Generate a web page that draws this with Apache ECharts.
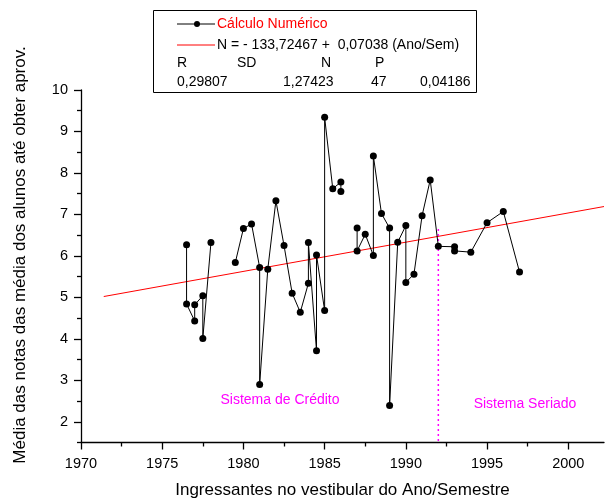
<!DOCTYPE html>
<html><head><meta charset="utf-8">
<script src="https://cdn.jsdelivr.net/npm/echarts@6/dist/echarts.min.js"></script>
<style>html,body{margin:0;padding:0;background:#fff}#c{width:605px;height:504px}</style>
</head><body><div id="c"></div>
<script>
// Data (null = gap in the line)
const years = [1976.5,1976.5,1977,1977,1977.5,1977.5,1978,1978.75,
  1979.5,1980,1980.5,1981,1981,1981.5,1982,1982.5,1983,1983.5,1984,1984,1984.5,1984.5,1985,1985,1985.5,1986,1986,1986.5,
  1987,1987,1987.5,1988,1988,1988.5,1989,1989,1989.5,1990,1990,1990.5,1991,1991.5,1992,1993,1993,1994,1995,1996,1997];
const values = [6.27,4.84,4.43,4.82,5.04,4.01,6.32,null,
  5.84,6.66,6.77,5.72,2.90,5.68,7.33,6.25,5.10,4.64,5.34,6.32,3.71,6.02,4.68,9.34,7.62,7.78,7.55,null,
  6.67,6.12,6.52,6.01,8.41,7.02,6.67,2.39,6.33,6.73,5.36,5.56,6.97,7.83,6.23,6.22,6.12,6.09,6.80,7.07,5.61];
const fitX = [1971.4, 2002.2];
const fitY = [5.02, 7.19];
const dividerX = [1992, 1992];
const dividerY = [6.65, 1.5];
const xTickLabels = [1970,1975,1980,1985,1990,1995,2000];
const xMinorTicks = [1972.5,1977.5,1982.5,1987.5,1992.5,1997.5];
const yTickLabels = [2,3,4,5,6,7,8,9,10];
const yMinorTicks = [1.5,2.5,3.5,4.5,5.5,6.5,7.5,8.5,9.5];
const legendHeader = ['R','SD','N','P'];
const legendValues = ['0,29807','1,27423','47','0,04186'];

const FF = '"Liberation Sans", Arial, sans-serif';
const chart = echarts.init(document.getElementById('c'), null, {renderer:'canvas'});

const dataPairs = years.map((x,i)=>[x, values[i]==null ? '-' : values[i]]);
const fitPairs = fitX.map((x,i)=>[x, fitY[i]]);
const divPairs = dividerX.map((x,i)=>[x, dividerY[i]]);

const xMin = 1970, xMax = 2002.2, yMin = 1.5, yMax = 10;

const txt = (x,y,text,color,align) => ({type:'text', x:x, y:y,
  style:{text:text, fill:color||'#000', font:'14px '+FF, textAlign:align||'left', textVerticalAlign:'middle'}});

chart.setOption({
  animation:false,
  backgroundColor:'#fff',
  grid:{left:81, right:1, top:90, bottom:61.5, containLabel:false},
  xAxis:[
    {type:'value', min:xMin, max:xMax, position:'bottom',
     axisLine:{show:true, lineStyle:{color:'#000', width:1.3}},
     axisTick:{show:true, customValues:xTickLabels, length:7, lineStyle:{color:'#000', width:1.3}},
     axisLabel:{customValues:xTickLabels, color:'#000', fontSize:14.5, fontFamily:FF, margin:14, formatter:v=>String(v)},
     splitLine:{show:false},
     name:'Ingressantes no vestibular do Ano/Semestre', nameLocation:'middle', nameGap:39,
     nameTextStyle:{color:'#000', fontSize:17, fontFamily:FF}},
    {type:'value', min:xMin, max:xMax, position:'bottom',
     axisLine:{show:false},
     axisTick:{show:true, customValues:xMinorTicks, length:4, lineStyle:{color:'#000', width:1.3}},
     axisLabel:{show:false}, splitLine:{show:false}}
  ],
  yAxis:[
    {type:'value', min:yMin, max:yMax, position:'left',
     axisLine:{show:true, lineStyle:{color:'#000', width:1.3}},
     axisTick:{show:true, customValues:yTickLabels, length:7, lineStyle:{color:'#000', width:1.3}},
     axisLabel:{customValues:yTickLabels, color:'#000', fontSize:14.5, fontFamily:FF, margin:13, formatter:v=>String(v)},
     splitLine:{show:false}},
    {type:'value', min:yMin, max:yMax, position:'left',
     axisLine:{show:false},
     axisTick:{show:true, customValues:yMinorTicks, length:4, lineStyle:{color:'#000', width:1.3}},
     axisLabel:{show:false}, splitLine:{show:false}}
  ],
  series:[
    {type:'line', name:'fit', data:fitPairs, xAxisIndex:0, yAxisIndex:0, symbol:'none',
     lineStyle:{color:'#ff0000', width:1}, silent:true, z:2},
    {type:'line', name:'div', data:divPairs, xAxisIndex:0, yAxisIndex:0, symbol:'none',
     lineStyle:{color:'#ff00ff', width:1.5, type:[2,3]}, silent:true, z:2},
    {type:'line', name:'Cálculo Numérico', data:dataPairs, xAxisIndex:0, yAxisIndex:0,
     symbol:'circle', symbolSize:7, showAllSymbol:true, connectNulls:false,
     itemStyle:{color:'#000'}, lineStyle:{color:'#000', width:1}, z:3}
  ],
  graphic:[
    {type:'text', x:20, y:255, rotation:Math.PI/2,
     style:{text:'Média das notas das média dos alunos até obter aprov.', fill:'#000', font:'17px '+FF, textAlign:'center', textVerticalAlign:'middle'}},
    {type:'rect', shape:{x:153.5, y:10.5, width:323, height:82}, style:{fill:'none', stroke:'#000', lineWidth:1}},
    {type:'line', shape:{x1:177, y1:24, x2:215, y2:24}, style:{stroke:'#000', lineWidth:1}},
    {type:'circle', shape:{cx:197, cy:24, r:3}, style:{fill:'#000'}},
    txt(217, 24, 'Cálculo Numérico', '#ff0000'),
    {type:'line', shape:{x1:177, y1:45, x2:215, y2:45}, style:{stroke:'#ff0000', lineWidth:1}},
    txt(217, 45, 'N = - 133,72467 +  0,07038 (Ano/Sem)', '#000'),
    txt(177, 63, legendHeader[0]), txt(237, 63, legendHeader[1]), txt(321, 63, legendHeader[2]), txt(375, 63, legendHeader[3]),
    txt(177, 82, legendValues[0]), txt(283, 82, legendValues[1]), txt(371, 82, legendValues[2]), txt(420, 82, legendValues[3]),
    txt(280, 400, 'Sistema de Crédito', '#ff00ff', 'center'),
    txt(525, 404, 'Sistema Seriado', '#ff00ff', 'center')
  ]
});
</script></body></html>
